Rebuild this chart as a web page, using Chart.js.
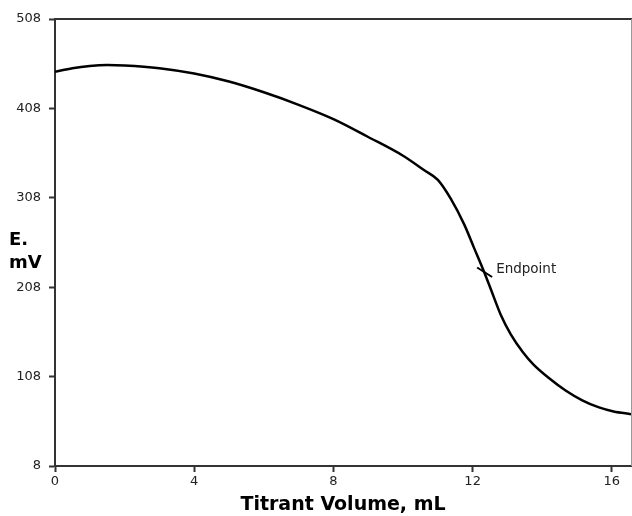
<!DOCTYPE html>
<html>
<head>
<meta charset="utf-8">
<script src="https://cdn.jsdelivr.net/npm/chart.js@4/dist/chart.umd.min.js"></script>
<style>
html,body{margin:0;padding:0;background:#fff;}
#wrap{width:632px;height:516px;position:relative;}
</style>
</head>
<body>
<div id="wrap"><canvas id="c" width="632" height="516"></canvas></div>
<script>
// Titrant volume (mL)
const volumes = [0, 0.5, 1, 1.5, 2, 3, 4, 5, 6, 7, 8, 9, 10, 10.6, 11.0, 11.37, 11.76, 12.04, 12.33, 12.52, 12.81, 13.1, 13.45, 13.75, 14.19, 14.67, 15.15, 15.63, 16.05, 16.55];
// Potential E (mV)
const potentials = [449, 453, 455.5, 456.5, 456, 453, 447, 438, 426, 412, 396, 376, 355, 339, 328, 307, 278, 252, 225, 206, 177, 155, 135, 121.5, 106.5, 92.5, 81.5, 73.5, 69, 66];
const xTicks = [0, 4, 8, 12, 16];
const yTicks = [8, 108, 208, 308, 408, 508];
const endpoint = [12.33, 225];
const endpointLabel = "Endpoint";
const xTitle = "Titrant Volume, mL";
const yTitleLines = ["E.", "mV"];

const points = volumes.map((v, i) => ({x: v, y: potentials[i]}));

const FONT = "'DejaVu Sans', Verdana, sans-serif";

const framePlugin = {
  id: 'frame',
  afterDraw(chart) {
    const ctx = chart.ctx;
    const a = chart.chartArea;
    ctx.save();
    // top border
    ctx.strokeStyle = '#333';
    ctx.lineWidth = 2;
    ctx.beginPath();
    ctx.moveTo(a.left, a.top);
    ctx.lineTo(chart.width, a.top);
    ctx.stroke();
    // right border
    ctx.strokeStyle = '#999';
    ctx.lineWidth = 1;
    ctx.beginPath();
    ctx.moveTo(a.right + 0.5, a.top);
    ctx.lineTo(a.right + 0.5, a.bottom);
    ctx.stroke();
    // endpoint mark
    const xs = chart.scales.x, ys = chart.scales.y;
    const px = xs.getPixelForValue(endpoint[0]);
    const py = ys.getPixelForValue(endpoint[1]);
    ctx.strokeStyle = '#000';
    ctx.lineWidth = 2;
    ctx.beginPath();
    ctx.moveTo(px - 7, py - 4.5);
    ctx.lineTo(px + 8, py + 5);
    ctx.stroke();
    ctx.fillStyle = '#222';
    ctx.font = "13.5px " + FONT;
    ctx.textAlign = 'left';
    ctx.textBaseline = 'middle';
    ctx.fillText(endpointLabel, px + 12, py - 3);
    // y axis title (horizontal, two lines)
    ctx.fillStyle = '#000';
    ctx.font = "bold 18px " + FONT;
    ctx.textBaseline = 'alphabetic';
    ctx.fillText(yTitleLines[0], 9, 245);
    ctx.fillText(yTitleLines[1], 9, 268);
    ctx.restore();
  }
};

new Chart(document.getElementById('c'), {
  type: 'line',
  data: {
    datasets: [{
      data: points,
      borderColor: '#000',
      borderWidth: 2.5,
      pointRadius: 0,
      fill: false,
      cubicInterpolationMode: 'monotone'
    }]
  },
  options: {
    responsive: false,
    animation: false,
    devicePixelRatio: 1,
    layout: {padding: {top: 19, right: 1, left: 0, bottom: 0}},
    plugins: {legend: {display: false}, tooltip: {enabled: false}},
    scales: {
      x: {
        type: 'linear',
        min: 0,
        max: 16.55,
        afterBuildTicks(s) { s.ticks = xTicks.map(v => ({value: v})); },
        afterFit(s) { s.height = 50; },
        grid: {drawOnChartArea: false, tickLength: 6, color: '#333', tickWidth: 2},
        border: {color: '#333', width: 2},
        ticks: {color: '#222', font: {family: FONT, size: 13}, padding: 2, maxRotation: 0, autoSkip: false},
        title: {display: true, text: xTitle, color: '#000', font: {family: FONT, size: 19, weight: 'bold'}, padding: {top: 0, bottom: 0}}
      },
      y: {
        type: 'linear',
        min: 8,
        max: 508,
        afterBuildTicks(s) { s.ticks = yTicks.map(v => ({value: v})); },
        afterFit(s) { s.width = 55; },
        grid: {drawOnChartArea: false, tickLength: 6, color: '#333', tickWidth: 2},
        border: {color: '#333', width: 2},
        ticks: {color: '#222', font: {family: FONT, size: 13}, padding: 8, autoSkip: false}
      }
    }
  },
  plugins: [framePlugin]
});
</script>
</body>
</html>
